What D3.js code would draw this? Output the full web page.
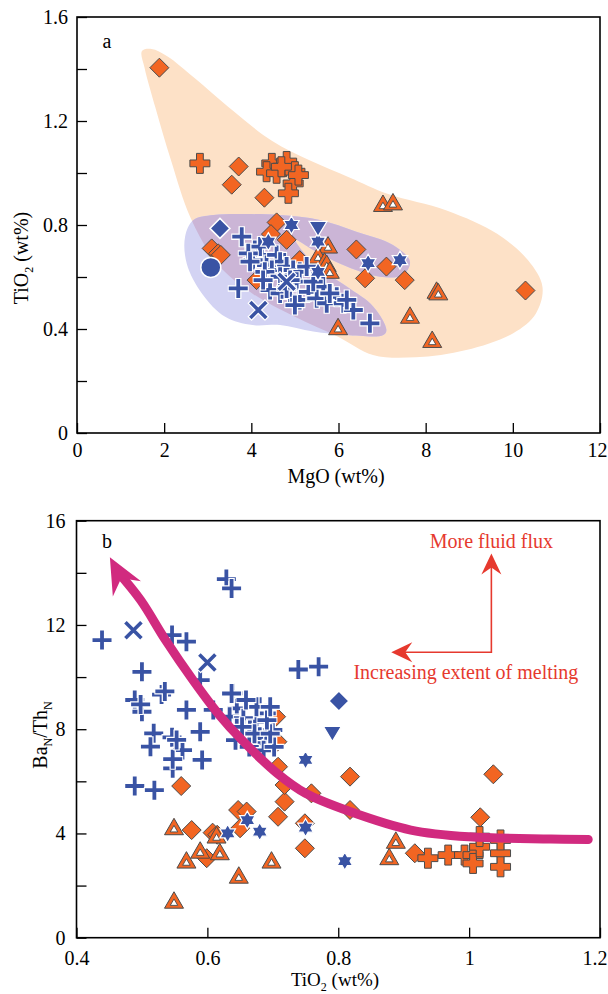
<!DOCTYPE html>
<html>
<head>
<meta charset="utf-8">
<script src="https://cdn.jsdelivr.net/npm/d3@7"></script>
<style>
  body { margin: 0; background: #fff; }
  text { font-family: "Liberation Serif", "Times New Roman", serif; }
</style>
</head>
<body>
<div id="chart"></div>
<script>
// ---------- panel a : MgO (wt%) vs TiO2 (wt%)
const aTicksX = [0, 2, 4, 6, 8, 10, 12];
const aTicksY = [0, 0.2, 0.4, 0.6, 0.8, 1.0, 1.2, 1.4, 1.6];

const aOrangeField = [[1.49,1.469],[1.71,1.477],[2.07,1.449],[2.69,1.366],[3.58,1.239],[4.47,1.124],[5.36,1.047],
  [6.25,0.983],[7.14,0.919],[8.48,0.856],[9.64,0.766],[10.35,0.664],[10.68,0.562],[10.53,0.460],[10.0,0.383],
  [8.93,0.319],[7.77,0.291],[6.79,0.300],[5.99,0.370],[5.0,0.447],[4.03,0.536],[3.22,0.651],[2.60,0.830],
  [2.16,1.047],[1.80,1.251],[1.55,1.405]];
const aBlueField = [[2.48,0.755],[2.67,0.819],[3.13,0.838],[3.89,0.842],[4.66,0.838],[5.57,0.819],[6.41,0.774],
  [7.25,0.723],[7.64,0.659],[7.48,0.608],[6.95,0.601],[6.19,0.640],[5.42,0.704],[5.00,0.745],[5.42,0.653],
  [6.19,0.563],[6.80,0.486],[7.10,0.396],[7.03,0.377],[6.19,0.377],[5.42,0.390],[4.66,0.415],[4.03,0.415],
  [3.40,0.447],[2.87,0.536],[2.52,0.650]];

const aOrangeDiamond = [[1.89,1.405],[3.71,1.025],[3.55,0.955],[4.30,0.905],[4.58,0.810],[4.81,0.743],[3.09,0.710],
  [3.24,0.691],[3.30,0.685],[6.41,0.706],[7.10,0.640],[6.61,0.595],[7.52,0.588],[10.29,0.548],[5.11,0.665],
  [4.12,0.588],[4.45,0.765]];
const aOrangeCross = [[2.82,1.037],[4.47,1.037],[4.81,1.044],[4.35,1.005],[4.58,0.999],[5.00,1.005],[4.96,0.960],
  [4.85,0.922],[4.69,1.024],[5.08,0.992]];
const aOrangeTriangle = [[7.02,0.877],[7.25,0.883],[5.76,0.717],[5.53,0.678],[5.68,0.655],[5.73,0.646],[5.80,0.620],
  [5.99,0.403],[7.64,0.447],[8.25,0.543],[8.29,0.537],[8.15,0.354]];

const aBluePlus = [[3.78,0.755],[3.70,0.556],[6.72,0.422],[4.08,0.704],[4.24,0.685],[4.04,0.665],[4.35,0.646],
  [4.58,0.685],[4.66,0.659],[4.47,0.627],[4.31,0.620],[4.81,0.640],[4.66,0.601],[4.96,0.627],[5.11,0.620],
  [5.27,0.640],[5.04,0.582],[4.43,0.550],[4.66,0.537],[4.89,0.524],[5.11,0.512],[5.00,0.492],[5.31,0.543],
  [5.50,0.518],[5.65,0.563],[5.73,0.499],[5.96,0.524],[6.11,0.499],[6.34,0.473],[5.42,0.582],[4.27,0.588],
  [4.81,0.556],[4.20,0.717],[3.93,0.691],[3.97,0.659],[4.89,0.588],[5.80,0.537],[6.19,0.512]];
const aBlueX = [[4.16,0.473],[4.81,0.582]];
const aBlueStar = [[4.92,0.800],[4.39,0.736],[5.53,0.736],[5.53,0.620],[6.68,0.653],[7.41,0.665]];
const aBlueDiamond = [[3.28,0.787]];
const aBlueCircle = [[3.07,0.637]];
const aBlueTriDown = [[5.53,0.791]];

// ---------- panel b : TiO2 (wt%) vs BaN/ThN
const bTicksX = [0.4, 0.6, 0.8, 1.0, 1.2];
const bTicksY = [0, 2, 4, 6, 8, 10, 12, 14, 16];

const bOrangeDiamond = [[0.560,5.82],[0.576,4.13],[0.608,4.03],[0.599,3.05],[0.647,4.90],[0.660,4.84],[0.650,4.20],
  [0.708,6.56],[0.705,8.48],[0.707,7.52],[0.718,5.22],[0.708,4.64],[0.718,5.86],[0.759,5.54],[0.749,3.43],
  [0.818,6.18],[0.818,4.90],[1.037,6.27],[1.017,4.62],[0.917,3.24],[0.749,4.39],[0.615,3.95]];
const bOrangeTriangle = [[0.549,4.20],[0.568,2.92],[0.589,3.30],[0.619,3.24],[0.614,3.88],[0.698,2.92],
  [0.648,2.34],[0.549,1.38],[0.888,3.68],[0.878,3.05]];
const bOrangeCross = [[0.937,3.05],[0.968,3.17],[0.993,3.17],[1.006,3.17],[1.006,2.85],[1.016,3.49],[1.016,3.88],
  [1.048,3.24],[1.048,2.72],[1.048,3.75]];

const bBluePlus = [[0.439,11.42],[0.629,13.76],[0.637,13.40],[0.546,11.61],[0.568,11.36],[0.500,10.20],[0.589,9.88],
  [0.739,10.29],[0.770,10.40],[0.489,9.12],[0.500,8.67],[0.530,9.33],[0.535,9.45],[0.498,8.95],[0.518,7.84],
  [0.513,7.33],[0.546,7.69],[0.562,7.20],[0.547,6.50],[0.547,6.85],[0.589,7.90],[0.592,6.82],[0.489,5.82],
  [0.519,5.66],[0.568,8.74],[0.609,8.74],[0.553,7.59],[0.639,9.38],[0.660,9.12],[0.645,8.80],[0.680,8.86],
  [0.690,8.61],[0.634,8.48],[0.655,8.42],[0.675,8.29],[0.700,7.97],[0.665,7.97],[0.645,8.04],[0.680,7.71],
  [0.690,7.46],[0.655,7.59],[0.643,7.58],[0.664,7.32],[0.686,7.19],[0.702,7.32],[0.672,7.83],[0.696,7.83],
  [0.653,8.09],[0.691,8.35],[0.675,8.86],[0.659,9.12],[0.637,9.37],[0.696,8.86]];
const bBlueX = [[0.487,11.80],[0.600,10.56]];
const bBlueStar = [[0.750,6.82],[0.661,4.51],[0.631,4.00],[0.680,4.07],[0.750,4.22],[0.810,2.94]];
const bBlueDiamond = [[0.801,9.08]];
const bBlueTriDown = [[0.791,7.88]];

const bTrendCurve = [[1.182,3.77],[1.125,3.79],[1.0,3.87],[0.911,4.13],[0.819,4.83],[0.750,5.54],[0.707,6.30],
  [0.653,7.58],[0.616,8.61],[0.578,9.88],[0.536,11.42],[0.498,12.95],[0.463,14.04]];
const bTrendTip = [0.451, 14.60];
const bArrowCorner = [1.034, 10.95];
const bArrowUpTip = [1.034, 14.74];
const bArrowLeftTip = [0.881, 10.95];

// ---------- colours
const orange = '#f26522', edge = '#4b4b4b', blue = '#3953a4';
const peach = '#fde1c7', lavender = '#d3d3f3', overlap = '#cbb5d6';
const magenta = '#d12a7f', red = '#e6392e';

const svg = d3.select('#chart').append('svg').attr('width', 608).attr('height', 994);
const fmt = d3.format('~g');

function starPath(R) {
  const r = R / Math.sqrt(3);
  return d3.range(12).map(i => {
    const a = (-90 + i * 30) * Math.PI / 180, k = i % 2 ? r : R;
    return (i ? 'L' : 'M') + (k * Math.cos(a)).toFixed(2) + ',' + (k * Math.sin(a)).toFixed(2);
  }).join('') + 'Z';
}
function triUp(s) {
  const h = s * Math.sqrt(3) / 2;
  return `M0,${-2 * h / 3}L${s / 2},${h / 3}L${-s / 2},${h / 3}Z`;
}

function markers(g, x, y, pts, kind) {
  const m = g.append('g').selectAll('g').data(pts).join('g')
    .attr('transform', d => `translate(${x(d[0])},${y(d[1])})`);
  if (kind === 'oDiamond') {
    m.append('path').attr('d', 'M0,-9.5L9.5,0L0,9.5L-9.5,0Z').attr('fill', orange).attr('stroke', edge).attr('stroke-width', 1);
  } else if (kind === 'oCross') {
    const a = 10, w = 3.4;
    m.append('path').attr('d', `M${-w},${-a}H${w}V${-w}H${a}V${w}H${w}V${a}H${-w}V${w}H${-a}V${-w}H${-w}Z`)
      .attr('fill', orange).attr('stroke', edge).attr('stroke-width', 1);
  } else if (kind === 'oTri') {
    m.append('path').attr('d', triUp(19)).attr('transform', 'translate(0,1)').attr('fill', orange).attr('stroke', edge).attr('stroke-width', 1);
    m.append('path').attr('d', triUp(7.5)).attr('transform', 'translate(0,1.5)').attr('fill', '#fff').attr('stroke', edge).attr('stroke-width', 0.9);
  } else if (kind === 'bPlus') {
    m.append('path').attr('d', 'M-10.5,0H10.5M0,-10.5V10.5').attr('stroke', '#fff').attr('stroke-width', 6.4);
    m.append('path').attr('d', 'M-9.5,0H9.5M0,-9.5V9.5').attr('stroke', blue).attr('stroke-width', 3.8);
  } else if (kind === 'bX') {
    m.append('path').attr('d', 'M-8.8,-8.8L8.8,8.8M-8.8,8.8L8.8,-8.8').attr('stroke', '#fff').attr('stroke-width', 6);
    m.append('path').attr('d', 'M-8,-8L8,8M-8,8L8,-8').attr('stroke', blue).attr('stroke-width', 3.6);
  } else if (kind === 'bStar') {
    m.append('path').attr('d', starPath(9)).attr('fill', blue).attr('stroke', '#fff').attr('stroke-width', 1.2);
  } else if (kind === 'bDiamond') {
    m.append('path').attr('d', 'M0,-10L10,0L0,10L-10,0Z').attr('fill', blue).attr('stroke', '#fff').attr('stroke-width', 1.5);
  } else if (kind === 'bCircle') {
    m.append('circle').attr('r', 10).attr('fill', blue).attr('stroke', '#fff').attr('stroke-width', 1.5);
  } else if (kind === 'bTriDown') {
    m.append('path').attr('d', 'M0,9L9,-6L-9,-6Z').attr('fill', blue).attr('stroke', '#fff').attr('stroke-width', 1.2);
  }
}

function axes(g, x, y, o) {
  const xa = g.append('g').attr('transform', `translate(0,${o.bottom})`)
    .call(d3.axisBottom(x).tickValues(o.xTicks).tickSizeInner(-10).tickSizeOuter(0).tickPadding(o.xPad).tickFormat(fmt));
  const ya = g.append('g').attr('transform', `translate(${o.left},0)`)
    .call(d3.axisLeft(y).tickValues(o.yTicks).tickSizeInner(-10).tickSizeOuter(0).tickPadding(o.yPad)
      .tickFormat(d => o.yLabelled(d) ? fmt(d) : ''));
  [xa, ya].forEach(a => {
    a.select('.domain').remove();
    a.attr('font-size', 20).attr('font-family', '"Liberation Serif", serif');
    a.selectAll('line').attr('stroke', '#000').attr('stroke-width', 1.3);
    a.selectAll('text').attr('fill', '#000');
  });
  // keep the last x label inside the page
  xa.selectAll('.tick:last-of-type text').attr('text-anchor', 'end').attr('x', 7);
  g.append('rect').attr('x', o.left).attr('y', o.top)
    .attr('width', o.right - o.left).attr('height', o.bottom - o.top)
    .attr('fill', 'none').attr('stroke', '#000').attr('stroke-width', 1.6);
}

function subText(g, parts, size) {
  const t = g.append('text').attr('font-size', size).attr('text-anchor', 'middle').attr('fill', '#000');
  let shifted = false;
  parts.forEach(p => {
    const s = t.append('tspan').text(p[0]);
    if (p[1] && !shifted) { s.attr('font-size', 12).attr('dy', 5); shifted = true; }
    else if (!p[1] && shifted) { s.attr('dy', -5); shifted = false; }
  });
  return t;
}

// ================= panel a =================
const A = { left: 77, right: 600, top: 17, bottom: 433, xTicks: aTicksX, yTicks: aTicksY, xPad: 10, yPad: 9,
  yLabelled: d => Math.round(d * 10) % 4 === 0 };
const ax = d3.scaleLinear().domain([0, 12]).range([A.left, A.right]);
const ay = d3.scaleLinear().domain([0, 1.6]).range([A.bottom, A.top]);
const ga = svg.append('g');

const field = d3.line().x(d => ax(d[0])).y(d => ay(d[1])).curve(d3.curveCatmullRomClosed.alpha(0.5));
svg.append('defs').append('clipPath').attr('id', 'orangeClip').append('path').attr('d', field(aOrangeField));
ga.append('path').attr('d', field(aOrangeField)).attr('fill', peach);
ga.append('path').attr('d', field(aBlueField)).attr('fill', lavender);
ga.append('path').attr('d', field(aBlueField)).attr('fill', overlap).attr('clip-path', 'url(#orangeClip)');

markers(ga, ax, ay, aOrangeDiamond, 'oDiamond');
markers(ga, ax, ay, aOrangeCross, 'oCross');
markers(ga, ax, ay, aOrangeTriangle, 'oTri');
markers(ga, ax, ay, aBluePlus, 'bPlus');
markers(ga, ax, ay, aBlueX, 'bX');
markers(ga, ax, ay, aBlueStar, 'bStar');
markers(ga, ax, ay, aBlueDiamond, 'bDiamond');
markers(ga, ax, ay, aBlueCircle, 'bCircle');
markers(ga, ax, ay, aBlueTriDown, 'bTriDown');
axes(ga, ax, ay, A);

ga.append('text').attr('x', 107).attr('y', 48).attr('font-size', 20).attr('text-anchor', 'middle').text('a');
subText(ga, [['MgO (wt%)', false]], 20).attr('x', 336).attr('y', 483);
subText(ga.append('g').attr('transform', 'translate(28,258) rotate(-90)'),
  [['TiO', false], ['2', true], [' (wt%)', false]], 20);

// ================= panel b =================
const B = { left: 76.5, right: 600, top: 520.7, bottom: 937.7, xTicks: bTicksX, yTicks: bTicksY, xPad: 13, yPad: 11,
  yLabelled: d => d % 4 === 0 };
const bx = d3.scaleLinear().domain([0.4, 1.2]).range([B.left, B.right]);
const by = d3.scaleLinear().domain([0, 16]).range([B.bottom, B.top]);
const gb = svg.append('g');

markers(gb, bx, by, bOrangeDiamond, 'oDiamond');
markers(gb, bx, by, bOrangeTriangle, 'oTri');
markers(gb, bx, by, bOrangeCross, 'oCross');
markers(gb, bx, by, bBluePlus, 'bPlus');
markers(gb, bx, by, bBlueX, 'bX');
markers(gb, bx, by, bBlueStar, 'bStar');
markers(gb, bx, by, bBlueDiamond, 'bDiamond');
markers(gb, bx, by, bBlueTriDown, 'bTriDown');

// trend arrow
const trend = d3.line().x(d => bx(d[0])).y(d => by(d[1])).curve(d3.curveCatmullRom.alpha(0.5));
gb.append('path').attr('d', trend(bTrendCurve)).attr('fill', 'none').attr('stroke', magenta)
  .attr('stroke-width', 9).attr('stroke-linecap', 'round');

function arrowHead(tip, from, len, half, notch) {
  const dx = tip[0] - from[0], dy = tip[1] - from[1], n = Math.hypot(dx, dy);
  const ux = dx / n, uy = dy / n, px = -uy, py = ux;
  const bx0 = tip[0] - ux * len, by0 = tip[1] - uy * len;
  return `M${tip[0]},${tip[1]}L${bx0 + px * half},${by0 + py * half}L${tip[0] - ux * notch},${tip[1] - uy * notch}` +
    `L${bx0 - px * half},${by0 - py * half}Z`;
}
const last = bTrendCurve[bTrendCurve.length - 1];
gb.append('path').attr('d', arrowHead([bx(bTrendTip[0]), by(bTrendTip[1])], [bx(last[0]), by(last[1])], 36, 16, 24))
  .attr('fill', magenta);

// red annotation arrows
const corner = [bx(bArrowCorner[0]), by(bArrowCorner[1])];
const upTip = [bx(bArrowUpTip[0]), by(bArrowUpTip[1])];
const leftTip = [bx(bArrowLeftTip[0]), by(bArrowLeftTip[1])];
gb.append('path').attr('d', `M${leftTip[0] + 8},${corner[1]}H${corner[0]}V${upTip[1] + 8}`)
  .attr('fill', 'none').attr('stroke', red).attr('stroke-width', 1.6);
gb.append('path').attr('d', arrowHead(upTip, corner, 21, 10, 14)).attr('fill', red);
gb.append('path').attr('d', arrowHead(leftTip, corner, 21, 10, 14)).attr('fill', red);
gb.append('text').attr('x', bx(1.034)).attr('y', by(15.2) + 6).attr('font-size', 20).attr('text-anchor', 'middle')
  .attr('fill', red).text('More fluid flux');
gb.append('text').attr('x', bx(0.995)).attr('y', by(10.15) + 6).attr('font-size', 20).attr('text-anchor', 'middle')
  .attr('fill', red).text('Increasing extent of melting');

axes(gb, bx, by, B);

gb.append('text').attr('x', 107).attr('y', 548).attr('font-size', 20).attr('text-anchor', 'middle').text('b');
subText(gb, [['TiO', false], ['2', true], [' (wt%)', false]], 19).attr('x', 335).attr('y', 986);
subText(gb.append('g').attr('transform', 'translate(47,735) rotate(-90)'),
  [['Ba', false], ['N', true], ['/Th', false], ['N', true]], 20);
</script>
</body>
</html>
